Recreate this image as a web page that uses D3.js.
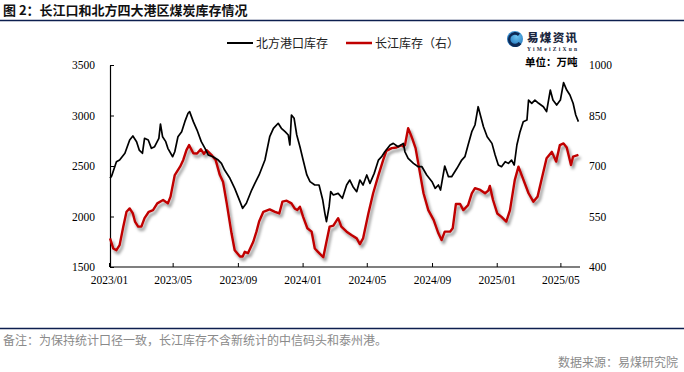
<!DOCTYPE html>
<html><head><meta charset="utf-8">
<script src="https://cdn.jsdelivr.net/npm/d3@7"></script>
<style>body{margin:0;background:#fff}svg{display:block}</style>
</head><body><svg id="c" width="684" height="372"></svg>
<script>
const northDates = ["2023-01-03","2023-01-06","2023-01-15","2023-01-21","2023-01-31","2023-02-09","2023-02-15","2023-02-22","2023-02-27","2023-03-05","2023-03-09","2023-03-16","2023-03-22","2023-03-28","2023-04-05","2023-04-08","2023-04-12","2023-04-18","2023-04-22","2023-05-01","2023-05-05","2023-05-11","2023-05-18","2023-05-24","2023-05-30","2023-06-02","2023-06-09","2023-06-16","2023-06-24","2023-07-01","2023-07-07","2023-07-16","2023-07-26","2023-08-01","2023-08-07","2023-08-17","2023-08-26","2023-09-05","2023-09-10","2023-09-17","2023-09-27","2023-10-03","2023-10-11","2023-10-22","2023-10-31","2023-11-07","2023-11-16","2023-11-22","2023-11-29","2023-12-05","2023-12-08","2023-12-11","2023-12-16","2023-12-21","2023-12-27","2024-01-02","2024-01-09","2024-01-15","2024-01-24","2024-02-01","2024-02-08","2024-02-12","2024-02-15","2024-02-20","2024-02-23","2024-02-28","2024-03-08","2024-03-16","2024-03-24","2024-03-30","2024-04-05","2024-04-12","2024-04-18","2024-04-24","2024-05-01","2024-05-07","2024-05-15","2024-05-23","2024-05-29","2024-06-04","2024-06-14","2024-06-20","2024-06-29","2024-07-09","2024-07-12","2024-07-18","2024-07-28","2024-08-06","2024-08-13","2024-08-22","2024-09-01","2024-09-07","2024-09-13","2024-09-17","2024-09-25","2024-10-02","2024-10-08","2024-10-18","2024-10-27","2024-11-02","2024-11-08","2024-11-15","2024-11-21","2024-11-27","2024-12-02","2024-12-07","2024-12-14","2024-12-23","2024-12-29","2025-01-04","2025-01-10","2025-01-17","2025-01-23","2025-01-29","2025-02-03","2025-02-08","2025-02-14","2025-02-20","2025-02-27","2025-03-02","2025-03-08","2025-03-14","2025-03-21","2025-03-30","2025-04-05","2025-04-12","2025-04-17","2025-04-24","2025-05-01","2025-05-07","2025-05-13","2025-05-19","2025-05-25","2025-05-30","2025-06-04"];
const northValues = [2378,2400,2543,2560,2626,2757,2797,2741,2658,2626,2774,2757,2675,2691,2774,2916,2790,2741,2675,2592,2641,2790,2840,2939,3022,3038,2939,2856,2741,2675,2609,2592,2559,2526,2460,2378,2279,2147,2081,2131,2262,2328,2411,2559,2790,2873,2923,2873,2840,2807,2708,3005,2972,2807,2691,2559,2411,2345,2312,2312,2163,2031,1949,2097,2246,2213,2229,2180,2312,2361,2295,2246,2361,2312,2411,2328,2427,2559,2592,2641,2708,2724,2691,2724,2641,2576,2526,2493,2493,2411,2345,2279,2312,2262,2500,2394,2394,2477,2559,2592,2708,2840,2906,3087,2988,2889,2790,2724,2609,2510,2493,2543,2526,2559,2510,2708,2840,2939,2955,3153,3121,3153,3121,3087,3038,3252,3153,3104,3153,3325,3252,3203,3121,3005,2939];
const yangtzeDates = ["2023-01-03","2023-01-09","2023-01-15","2023-01-21","2023-01-28","2023-02-03","2023-02-09","2023-02-15","2023-02-19","2023-02-25","2023-03-03","2023-03-09","2023-03-17","2023-03-25","2023-04-02","2023-04-13","2023-04-22","2023-04-27","2023-05-05","2023-05-15","2023-05-21","2023-05-27","2023-06-01","2023-06-09","2023-06-16","2023-06-23","2023-06-29","2023-07-04","2023-07-13","2023-07-21","2023-07-29","2023-08-04","2023-08-11","2023-08-20","2023-08-26","2023-09-05","2023-09-10","2023-09-14","2023-09-20","2023-09-30","2023-10-06","2023-10-11","2023-10-19","2023-10-31","2023-11-10","2023-11-18","2023-11-24","2023-12-02","2023-12-11","2023-12-17","2023-12-22","2023-12-27","2024-01-02","2024-01-10","2024-01-18","2024-01-24","2024-01-30","2024-02-09","2024-02-15","2024-02-21","2024-02-28","2024-03-08","2024-03-14","2024-03-24","2024-04-02","2024-04-12","2024-04-18","2024-04-24","2024-05-04","2024-05-13","2024-05-23","2024-06-01","2024-06-07","2024-06-17","2024-06-26","2024-07-06","2024-07-09","2024-07-12","2024-07-18","2024-07-25","2024-08-01","2024-08-10","2024-08-16","2024-08-25","2024-09-04","2024-09-13","2024-09-19","2024-09-25","2024-10-05","2024-10-10","2024-10-16","2024-10-24","2024-10-30","2024-11-08","2024-11-15","2024-11-21","2024-12-01","2024-12-10","2024-12-16","2024-12-19","2024-12-25","2025-01-02","2025-01-10","2025-01-19","2025-01-26","2025-02-04","2025-02-11","2025-02-17","2025-03-02","2025-03-11","2025-03-19","2025-03-27","2025-04-05","2025-04-15","2025-04-23","2025-04-30","2025-05-07","2025-05-13","2025-05-21","2025-05-25","2025-06-04"];
const yangtzeValues = [485,455,450,465,520,564,574,559,535,520,520,545,564,569,589,599,589,609,673,698,718,747,762,738,737,750,736,747,733,718,673,653,589,500,450,431,431,445,441,475,505,535,564,571,564,559,594,597,589,574,569,579,549,515,505,455,445,429,475,520,523,545,520,505,495,485,468,485,559,619,673,718,745,753,755,762,758,762,812,785,753,673,619,569,540,500,480,505,505,515,587,587,569,584,619,634,629,619,627,641,599,559,549,535,569,658,698,673,619,594,609,663,723,742,713,762,767,755,703,728,733];
const leftTicks = [1500,2000,2500,3000,3500];
const rightTicks = [400,550,700,850,1000];
const xTickDates = ["2023-01-01","2023-05-01","2023-09-01","2024-01-01","2024-05-01","2024-09-01","2025-01-01","2025-05-01"];
const xTickLabels = ["2023/01","2023/05","2023/09","2024/01","2024/05","2024/09","2025/01","2025/05"];
const seriesNames = ["北方港口库存","长江库存（右）"];
const titleText = "图 2：长江口和北方四大港区煤炭库存情况";
const noteText = "备注：为保持统计口径一致，长江库存不含新统计的中信码头和泰州港。";
const sourceText = "数据来源：易煤研究院";
const unitText = "单位：万吨";

const parse = d3.timeParse("%Y-%m-%d");
const svg = d3.select("#c");
const cjk = "'Noto Sans CJK SC','Noto Sans',sans-serif";
const serif = "'Liberation Serif','DejaVu Serif',serif";

const L = 110, R = 580, T = 65, B = 267;
const x = d3.scaleTime().domain([parse("2023-01-01"), parse("2025-06-07")]).range([109, R]);
const yL = d3.scaleLinear().domain([1500, 3500]).range([B, T]);
const yR = d3.scaleLinear().domain([400, 1000]).range([B, T]);

const defs = svg.append("defs");
const f = defs.append("filter").attr("id","sh").attr("x","-5%").attr("y","-10%").attr("width","115%").attr("height","130%");
f.append("feGaussianBlur").attr("in","SourceAlpha").attr("stdDeviation",1.6).attr("result","b");
f.append("feOffset").attr("in","b").attr("dx",2).attr("dy",3).attr("result","o");
f.append("feFlood").attr("flood-color","#000").attr("flood-opacity",0.45).attr("result","c");
f.append("feComposite").attr("in","c").attr("in2","o").attr("operator","in").attr("result","s");
const m = f.append("feMerge"); m.append("feMergeNode").attr("in","s"); m.append("feMergeNode").attr("in","SourceGraphic");
const rg = defs.append("radialGradient").attr("id","lg").attr("cx","60%").attr("cy","35%").attr("r","70%");
rg.append("stop").attr("offset","0%").attr("stop-color","#6cc4f0");
rg.append("stop").attr("offset","100%").attr("stop-color","#1769b5");

svg.append("text").attr("x",3).attr("y",15).attr("font-family",cjk).attr("font-weight","bold").attr("font-size",13).attr("fill","#111").text(titleText);
svg.append("line").attr("x1",0).attr("x2",684).attr("y1",20.5).attr("y2",20.5).attr("stroke","#0d1f4f").attr("stroke-width",1.5);
svg.append("line").attr("x1",0).attr("x2",684).attr("y1",328.5).attr("y2",328.5).attr("stroke","#0d1f4f").attr("stroke-width",1.5);

const gx = svg.append("g").attr("transform",`translate(0,${B})`)
  .call(d3.axisBottom(x).tickValues(xTickDates.map(parse)).tickFormat((d,i)=>xTickLabels[i]).tickSizeInner(-4).tickSizeOuter(0).tickPadding(9));
gx.select(".domain").remove();
gx.selectAll("text").attr("font-family",serif).attr("font-size",11.5).attr("fill","#000");
gx.selectAll("line").attr("stroke","#000");
svg.append("line").attr("x1",L).attr("x2",R).attr("y1",B).attr("y2",B).attr("stroke","#000").attr("stroke-width",1.2);

const gl = svg.append("g").attr("transform",`translate(${L},0)`)
  .call(d3.axisLeft(yL).tickValues(leftTicks).tickFormat(d3.format("d")).tickSizeInner(-4).tickSizeOuter(0).tickPadding(15));
gl.select(".domain").attr("stroke","#000").attr("stroke-width",1.2);
gl.selectAll("text").attr("font-family",serif).attr("font-size",11.5).attr("fill","#000");
gl.selectAll("line").attr("stroke","#000");

const gr = svg.append("g").attr("transform",`translate(${R},0)`)
  .call(d3.axisRight(yR).tickValues(rightTicks).tickFormat(d3.format("d")).tickSize(0).tickPadding(9));
gr.select(".domain").remove();
gr.selectAll("text").attr("font-family",serif).attr("font-size",11.5).attr("fill","#000");

const north = northDates.map((d,i)=>({d:parse(d),v:northValues[i]}));
const yangtze = yangtzeDates.map((d,i)=>({d:parse(d),v:yangtzeValues[i]}));
svg.append("path").datum(yangtze).attr("fill","none").attr("stroke","#c00000").attr("stroke-width",2.4).attr("stroke-linejoin","round")
  .attr("filter","url(#sh)").attr("d",d3.line().x(p=>x(p.d)).y(p=>yR(p.v)));
svg.append("path").datum(north).attr("fill","none").attr("stroke","#000").attr("stroke-width",1.7).attr("stroke-linejoin","round")
  .attr("d",d3.line().x(p=>x(p.d)).y(p=>yL(p.v)));

const lg = svg.append("g");
lg.append("line").attr("x1",227).attr("x2",253).attr("y1",43).attr("y2",43).attr("stroke","#000").attr("stroke-width",2);
lg.append("text").attr("x",256).attr("y",47.5).attr("font-family",cjk).attr("font-size",12).attr("fill","#222").text(seriesNames[0]);
lg.append("line").attr("x1",346).attr("x2",372).attr("y1",43).attr("y2",43).attr("stroke","#c00000").attr("stroke-width",2.5);
lg.append("text").attr("x",375).attr("y",47.5).attr("font-family",cjk).attr("font-size",12).attr("fill","#222").text(seriesNames[1]);

svg.append("circle").attr("cx",515).attr("cy",39).attr("r",8).attr("fill","url(#lg)");
svg.append("path").attr("d","M520,33.5 A7.5,7.5 0 1 0 521.5,44 L518.5,42 A4.5,4.5 0 1 1 518,36 Z").attr("fill","#0d2a55");
svg.append("text").attr("x",527).attr("y",42).attr("font-family",cjk).attr("font-weight","900").attr("font-size",11.5).attr("fill","#1b2740").attr("textLength",50).text("易煤资讯");
svg.append("text").attr("x",527).attr("y",50.5).attr("font-family",serif).attr("font-weight","bold").attr("font-size",5.5).attr("fill","#1b2740").attr("textLength",50).text("YiMeiZiXun");
svg.append("text").attr("x",525).attr("y",66).attr("font-family",cjk).attr("font-weight","bold").attr("font-size",10.5).attr("fill","#000").text(unitText);

svg.append("text").attr("x",3).attr("y",345).attr("font-family",cjk).attr("font-size",12).attr("fill","#8a8a8a").text(noteText);
svg.append("text").attr("x",678).attr("y",367).attr("text-anchor","end").attr("font-family",cjk).attr("font-size",12).attr("fill","#8a8a8a").text(sourceText);
</script></body></html>
